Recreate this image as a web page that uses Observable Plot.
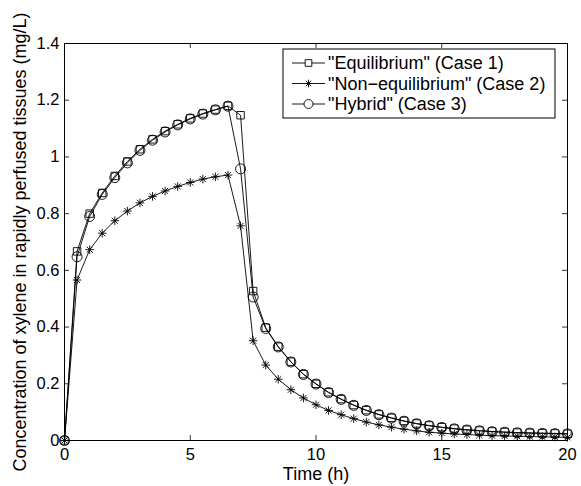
<!DOCTYPE html>
<html>
<head>
<meta charset="utf-8">
<script src="https://cdn.jsdelivr.net/npm/d3@7"></script>
<script src="https://cdn.jsdelivr.net/npm/@observablehq/plot@0.6"></script>
<style>
  html, body { margin: 0; padding: 0; background: #fff; }
  svg { font-family: "Liberation Sans", Arial, sans-serif; }
</style>
</head>
<body>
<div id="chart"></div>
<script>
const time = [0, 0.5, 1, 1.5, 2, 2.5, 3, 3.5, 4, 4.5, 5, 5.5, 6, 6.5, 7, 7.5, 8, 8.5, 9, 9.5, 10,
  10.5, 11, 11.5, 12, 12.5, 13, 13.5, 14, 14.5, 15, 15.5, 16, 16.5, 17, 17.5, 18, 18.5, 19, 19.5, 20];

const equilibrium = [0, 0.667, 0.800, 0.873, 0.933, 0.984, 1.027, 1.062, 1.091, 1.115, 1.136, 1.153, 1.167, 1.180, 1.147,
  0.527, 0.398, 0.331, 0.278, 0.234, 0.200, 0.170, 0.146, 0.125, 0.107, 0.092, 0.080, 0.069, 0.060, 0.053,
  0.047, 0.042, 0.038, 0.035, 0.032, 0.030, 0.028, 0.027, 0.026, 0.025, 0.024];

const nonEquilibrium = [0, 0.566, 0.673, 0.731, 0.775, 0.809, 0.838, 0.861, 0.880, 0.896, 0.910, 0.922, 0.930, 0.936, 0.757,
  0.352, 0.266, 0.216, 0.179, 0.150, 0.126, 0.106, 0.091, 0.077, 0.065, 0.055, 0.047, 0.040, 0.034, 0.029,
  0.026, 0.023, 0.021, 0.019, 0.017, 0.016, 0.015, 0.014, 0.013, 0.012, 0.011];

const hybrid = [0, 0.648, 0.790, 0.868, 0.927, 0.979, 1.023, 1.059, 1.088, 1.113, 1.134, 1.151, 1.166, 1.179, 0.958,
  0.506, 0.395, 0.330, 0.277, 0.233, 0.199, 0.169, 0.145, 0.124, 0.106, 0.091, 0.079, 0.068, 0.059, 0.052,
  0.046, 0.041, 0.037, 0.034, 0.031, 0.029, 0.027, 0.026, 0.025, 0.024, 0.023];

const seriesNames = ['"Equilibrium" (Case 1)', '"Non\u2212equilibrium" (Case 2)', '"Hybrid" (Case 3)'];
const xTicks = [0, 5, 10, 15, 20];
const yTicks = [0, 0.2, 0.4, 0.6, 0.8, 1, 1.2, 1.4];
const xLabel = "Time (h)";
const yLabel = "Concentration of xylene in rapidly perfused tissues (mg/L)";

// MATLAB-style asterisk (+ and x combined)
const asterisk = {
  draw(context, size) {
    const r = Math.sqrt(size / Math.PI);
    const d = r * Math.SQRT1_2;
    context.moveTo(-r, 0); context.lineTo(r, 0);
    context.moveTo(0, -r); context.lineTo(0, r);
    context.moveTo(-d, -d); context.lineTo(d, d);
    context.moveTo(-d, d); context.lineTo(d, -d);
  }
};

const rows = (vals) => time.map((t, i) => ({t, v: vals[i]}));
const s1 = rows(equilibrium), s2 = rows(nonEquilibrium), s3 = rows(hybrid);

const W = 581, H = 486;
const mL = 64, mR = 14, mT = 43, mB = 46;
const innerH = H - mT - mB;
const innerW = W - mL - mR;
const tickLen = 5;
const fontTick = 16.5;
const fontLabel = 18;
const sw = 0.9;
const radii = [4.2, 4.3, 5];

const plot = Plot.plot({
  width: W, height: H,
  marginLeft: mL, marginRight: mR, marginTop: mT, marginBottom: mB,
  style: {fontFamily: '"Liberation Sans", Arial, sans-serif', fontSize: fontTick + "px", color: "black", background: "white"},
  x: {domain: [0, 20]},
  y: {domain: [0, 1.4]},
  marks: [
    Plot.line(s1, {x: "t", y: "v", stroke: "black", strokeWidth: sw}),
    Plot.line(s2, {x: "t", y: "v", stroke: "black", strokeWidth: sw}),
    Plot.line(s3, {x: "t", y: "v", stroke: "black", strokeWidth: sw}),
    Plot.dot(s1, {x: "t", y: "v", symbol: "square", r: radii[0], stroke: "black", fill: "none", strokeWidth: sw}),
    Plot.dot(s2, {x: "t", y: "v", symbol: asterisk, r: radii[1], stroke: "black", fill: "none", strokeWidth: sw}),
    Plot.dot(s3, {x: "t", y: "v", symbol: "circle", r: radii[2], stroke: "black", fill: "none", strokeWidth: sw}),
    // inward ticks on all four sides
    Plot.tickX(xTicks, {x: d => d, insetTop: innerH - tickLen, stroke: "black", strokeWidth: 0.8}),
    Plot.tickX(xTicks, {x: d => d, insetBottom: innerH - tickLen, stroke: "black", strokeWidth: 0.8}),
    Plot.tickY(yTicks, {y: d => d, insetRight: innerW - tickLen, stroke: "black", strokeWidth: 0.8}),
    Plot.tickY(yTicks, {y: d => d, insetLeft: innerW - tickLen, stroke: "black", strokeWidth: 0.8}),
    Plot.axisX({ticks: xTicks, tickSize: 0, tickPadding: 8, label: null, fontSize: fontTick, tickFormat: d => String(d)}),
    Plot.axisY({ticks: yTicks, tickSize: 0, tickPadding: 5, label: null, fontSize: fontTick, tickFormat: d => String(d)}),
    Plot.frame({stroke: "black", strokeWidth: 1}),
    Plot.text([xLabel], {frameAnchor: "bottom", dy: 34, fontSize: fontLabel, fill: "black", lineAnchor: "middle"}),
    Plot.text([yLabel], {frameAnchor: "left", dx: -44, rotate: -90, fontSize: fontLabel, fill: "black", textAnchor: "middle", lineAnchor: "middle"})
  ]
});

// Legend (MATLAB style, inside top-right)
const svg = d3.select(plot);
const lg = svg.append("g")
  .attr("font-family", '"Liberation Sans", Arial, sans-serif')
  .attr("font-size", 18)
  .attr("text-anchor", "start");
const box = {x: 283, y: 49, w: 272, h: 69};
lg.append("rect").attr("x", box.x).attr("y", box.y).attr("width", box.w).attr("height", box.h)
  .attr("fill", "white").attr("stroke", "black").attr("stroke-width", 1);
const symTypes = [d3.symbolSquare, asterisk, d3.symbolCircle];
seriesNames.forEach((name, i) => {
  const cy = box.y + 14 + i * 20.5;
  lg.append("line").attr("x1", box.x + 9).attr("x2", box.x + 42).attr("y1", cy).attr("y2", cy)
    .attr("stroke", "black").attr("stroke-width", sw);
  lg.append("path").attr("d", d3.symbol(symTypes[i], Math.PI * radii[i] * radii[i] * 0.8)())
    .attr("transform", `translate(${box.x + 25.5},${cy})`)
    .attr("fill", "white").attr("stroke", "black").attr("stroke-width", sw);
  lg.append("text").attr("x", box.x + 45).attr("y", cy).attr("dy", "0.36em")
    .attr("text-anchor", "start").attr("fill", "black").text(name);
});

document.getElementById("chart").appendChild(plot);
</script>
</body>
</html>
